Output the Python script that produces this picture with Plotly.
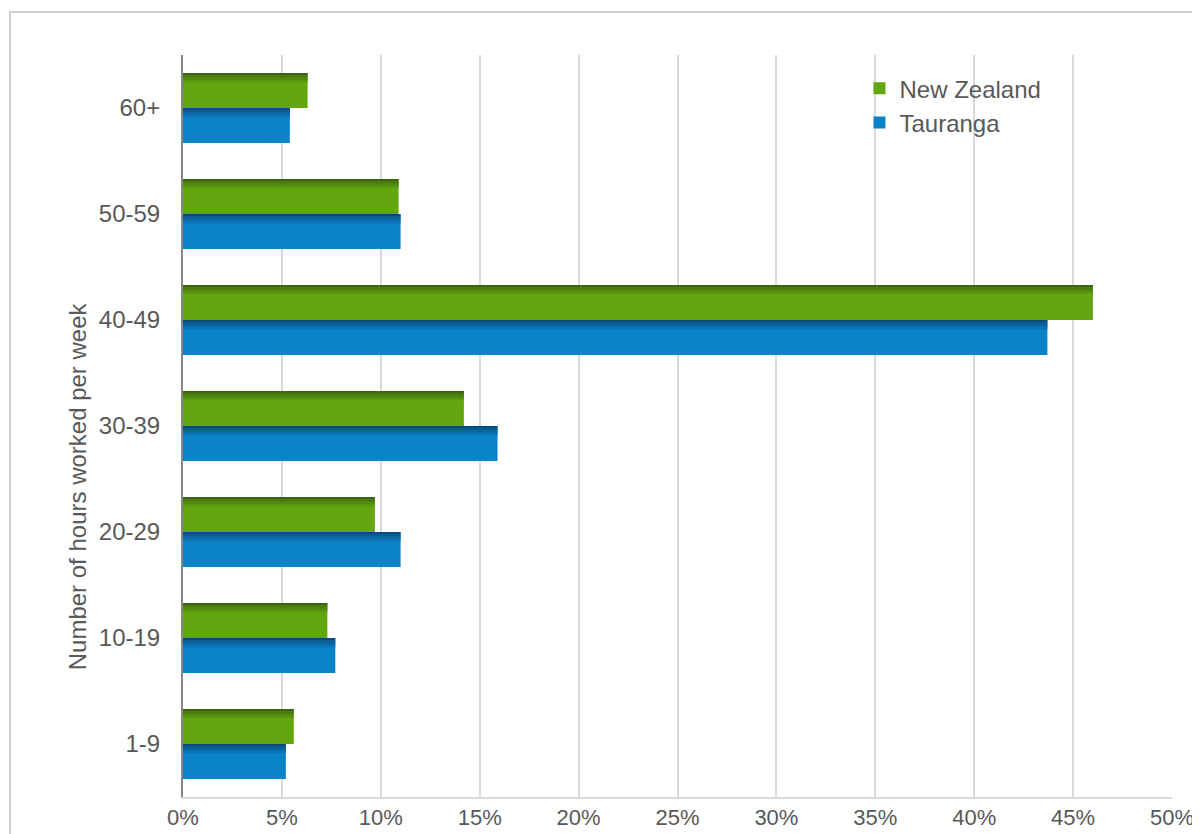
import plotly.graph_objects as go

categories = ["1-9", "10-19", "20-29", "30-39", "40-49", "50-59", "60+"]
new_zealand = [5.6, 7.3, 9.7, 14.2, 46.0, 10.9, 6.3]
tauranga = [5.2, 7.7, 11.0, 15.9, 43.7, 11.0, 5.4]
x_ticks = [0, 5, 10, 15, 20, 25, 30, 35, 40, 45, 50]
x_tick_labels = [f"{v}%" for v in x_ticks]

BAR_W = 0.33
series = [
    ("New Zealand", new_zealand, "#62A70F", ["#3B6410", "#47780F", "#52890F", "#5B9A0F"], 0.0),
    ("Tauranga", tauranga, "#0A82C8", ["#0B4A78", "#0B5A8E", "#0A68A6", "#0A76B8"], -BAR_W),
]

fig = go.Figure()
for name, vals, base_col, dark_cols, off in series:
    fig.add_trace(go.Bar(
        name=name, y=categories, x=vals, orientation="h",
        marker=dict(color=base_col, line=dict(width=0)),
        width=BAR_W, offset=off, showlegend=True, legendgroup=name,
    ))
    strip = 0.022
    for i, c in enumerate(dark_cols):
        fig.add_trace(go.Bar(
            y=categories, x=vals, orientation="h",
            marker=dict(color=c, line=dict(width=0)),
            width=strip, offset=off + BAR_W - strip * (i + 1),
            showlegend=False, hoverinfo="skip", legendgroup=name,
        ))

font_family = "Liberation Sans, Arial, sans-serif"
fig.update_layout(
    width=1192, height=826,
    barmode="overlay",
    paper_bgcolor="white", plot_bgcolor="white",
    margin=dict(l=175, r=28, t=47, b=37, autoexpand=False),
    font=dict(family=font_family, size=24, color="#595959"),
    legend=dict(x=0.684, y=0.985, xanchor="left", yanchor="top",
                bgcolor="rgba(0,0,0,0)", font=dict(size=24, color="#595959"),
                itemwidth=30, tracegroupgap=0, traceorder="grouped"),
    xaxis=dict(range=[0, 50], tickvals=x_ticks, ticktext=x_tick_labels,
               showgrid=True, gridcolor="#D9D9D9", gridwidth=2,
               zeroline=False, showline=True, linecolor="#D9D9D9", linewidth=2,
               ticks="", ticklabelstandoff=0, automargin=False,
               tickfont=dict(size=22, color="#595959")),
    yaxis=dict(categoryorder="array", categoryarray=categories,
               range=[-0.5, 6.5],
               showgrid=False, zeroline=False, showline=True,
               linecolor="#868686", linewidth=2, ticks="",
               ticklabelstandoff=16, automargin=False,
               tickfont=dict(size=24, color="#595959")),
    annotations=[dict(text="Number of hours worked per week", textangle=-90,
                      xref="paper", yref="paper", x=-0.107, y=0.419,
                      xanchor="center", yanchor="middle", showarrow=False,
                      font=dict(size=24, color="#595959"))],
    shapes=[dict(type="rect", xref="paper", yref="paper",
                 x0=-0.175, x1=1.05, y0=-0.1, y1=1.058,
                 line=dict(color="#BFBFBF", width=1.5), fillcolor="rgba(0,0,0,0)",
                 layer="below")],
)

fig.write_html("out.html")
